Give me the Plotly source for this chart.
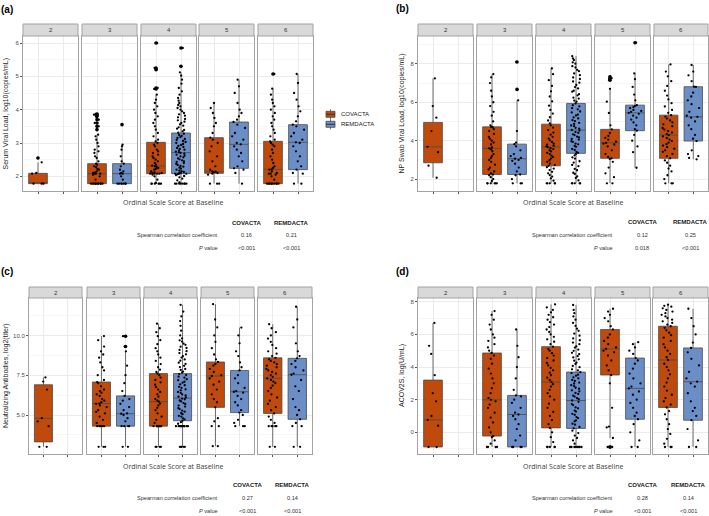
import plotly.graph_objects as go

# ---------------------------------------------------------------- data
SCORES = ["2", "3", "4", "5", "6"]
# nine groups per panel: facet index, x slot, study
GROUP_FACET = [0, 1, 1, 2, 2, 3, 3, 4, 4]
GROUP_SLOT = [1, 1, 2, 1, 2, 1, 2, 1, 2]
GROUP_STUDY = ["COVACTA", "COVACTA", "REMDACTA", "COVACTA", "REMDACTA",
               "COVACTA", "REMDACTA", "COVACTA", "REMDACTA"]

# (a) serum viral load
A_LO = [1.78, 1.78, 1.78, 1.78, 1.78, 1.78, 1.78, 1.78, 1.78]
A_Q1 = [1.78, 1.78, 1.78, 2.08, 2.08, 2.09, 2.24, 1.78, 2.20]
A_MED = [1.78, 2.08, 2.08, 2.31, 2.71, 2.14, 2.96, 2.21, 3.02]
A_Q3 = [2.09, 2.38, 2.38, 3.02, 3.30, 3.16, 3.63, 3.05, 3.55]
A_HI = [2.42, 3.25, 2.95, 4.45, 5.12, 4.20, 4.90, 4.63, 5.07]
A_OUT = [[2.55], [3.4, 3.5, 3.6, 3.7, 3.8, 3.85, 3.87], [3.55],
         [4.62, 4.65, 5.2, 5.25, 6.0], [5.3, 5.85], [], [], [5.07], []]
A_PTS = [
    [1.78, 1.78, 1.78, 2.08, 2.1, 2.42, 2.55],
    [1.78, 1.78, 1.78, 1.78, 1.78, 1.78, 1.78, 1.78, 1.78, 1.78, 1.78, 1.9, 2.0, 2.05, 2.08,
     2.08, 2.08, 2.1, 2.12, 2.15, 2.2, 2.22, 2.28, 2.3, 2.35, 2.38, 2.45, 2.55, 2.6, 2.7, 2.75,
     2.8, 2.9, 3.0, 3.1, 3.2, 3.25, 3.4, 3.5, 3.6, 3.7, 3.75, 3.8, 3.85, 3.87],
    [1.78, 1.78, 1.78, 1.78, 1.78, 1.78, 1.78, 1.9, 2.0, 2.08, 2.08, 2.1, 2.15, 2.2, 2.3, 2.38,
     2.45, 2.6, 2.8, 2.9, 2.95, 3.55],
    [1.78, 1.78, 1.78, 1.78, 1.78, 1.78, 1.8, 1.9, 2.0, 2.05, 2.08, 2.08, 2.08, 2.08, 2.1, 2.1,
     2.12, 2.15, 2.2, 2.22, 2.25, 2.28, 2.3, 2.32, 2.35, 2.4, 2.45, 2.5, 2.55, 2.6, 2.65, 2.7,
     2.75, 2.8, 2.9, 2.95, 3.0, 3.05, 3.1, 3.2, 3.3, 3.4, 3.5, 3.6, 3.7, 3.8, 3.9, 4.0, 4.1,
     4.2, 4.3, 4.45, 4.62, 4.65, 5.2, 5.25, 6.0],
    [1.78, 1.78, 1.78, 1.78, 1.78, 1.78, 1.78, 1.78, 1.82, 1.88, 1.93, 1.97, 2.01, 2.04, 2.06,
     2.08, 2.08, 2.08, 2.09, 2.11, 2.13, 2.15, 2.17, 2.2, 2.23, 2.26, 2.29, 2.31, 2.34, 2.37,
     2.4, 2.43, 2.45, 2.48, 2.51, 2.54, 2.57, 2.6, 2.62, 2.65, 2.68, 2.7, 2.72, 2.74, 2.77,
     2.8, 2.82, 2.85, 2.88, 2.91, 2.94, 2.97, 3.0, 3.03, 3.06, 3.09, 3.12, 3.15, 3.18, 3.21,
     3.24, 3.28, 3.31, 3.35, 3.39, 3.43, 3.47, 3.52, 3.56, 3.6, 3.64, 3.68, 3.72, 3.77, 3.82,
     3.86, 3.9, 3.95, 4.0, 4.05, 4.1, 4.14, 4.2, 4.27, 4.35, 4.45, 4.55, 4.65, 4.78, 4.9,
     5.02, 5.12, 5.3, 5.85],
    [1.78, 1.78, 1.78, 2.05, 2.08, 2.1, 2.12, 2.14, 2.15, 2.2, 2.3, 2.45, 2.6, 2.75, 2.9, 3.0,
     3.1, 3.16, 3.3, 3.5, 3.6, 3.75, 3.9, 4.05, 4.2],
    [1.78, 2.1, 2.2, 2.24, 2.3, 2.45, 2.6, 2.7, 2.8, 2.9, 2.96, 3.0, 3.1, 3.2, 3.3, 3.45, 3.55,
     3.63, 3.7, 3.8, 3.9, 4.0, 4.2, 4.5, 4.7, 4.9],
    [1.78, 1.78, 1.78, 1.78, 1.78, 1.78, 1.78, 1.78, 1.78, 1.78, 1.9, 2.0, 2.05, 2.08, 2.08, 2.1,
     2.15, 2.2, 2.21, 2.25, 2.3, 2.4, 2.5, 2.6, 2.7, 2.8, 2.9, 2.95, 3.0, 3.05, 3.1, 3.2, 3.3,
     3.4, 3.5, 3.6, 3.7, 3.8, 3.9, 4.0, 4.1, 4.2, 4.3, 4.45, 4.63, 5.07],
    [1.78, 1.78, 2.08, 2.1, 2.2, 2.3, 2.45, 2.6, 2.75, 2.9, 3.0, 3.02, 3.1, 3.2, 3.3, 3.4, 3.5,
     3.55, 3.65, 3.8, 3.95, 4.1, 4.3, 4.5, 4.8, 5.07],
]

# (b) NP swab viral load
B_LO = [2.07, 1.78, 1.78, 1.78, 1.78, 1.78, 2.59, 1.78, 3.03]
B_Q1 = [2.85, 2.24, 2.24, 2.69, 3.34, 3.08, 4.52, 3.08, 3.98]
B_MED = [3.68, 3.60, 3.06, 3.68, 4.55, 3.89, 5.45, 4.29, 5.24]
B_Q3 = [4.95, 4.72, 3.82, 4.86, 5.94, 4.59, 5.85, 5.33, 6.81]
B_HI = [7.24, 7.47, 6.10, 7.76, 8.40, 6.70, 7.50, 7.97, 7.94]
B_OUT = [[], [], [6.67, 8.1], [], [], [7.15, 7.25, 7.32], [9.1], [], []]
B_PTS = [
    [2.07, 2.7, 3.4, 3.68, 4.5, 5.2, 5.8, 7.24],
    [1.78, 1.78, 1.78, 1.78, 1.78, 1.78, 1.9, 2.0, 2.1, 2.2, 2.24, 2.3, 2.4, 2.5, 2.6, 2.75, 2.9,
     3.0, 3.1, 3.2, 3.3, 3.45, 3.55, 3.6, 3.65, 3.8, 3.9, 4.0, 4.1, 4.2, 4.35, 4.5, 4.6, 4.7,
     4.72, 4.8, 5.0, 5.3, 5.5, 5.8, 6.0, 6.3, 6.6, 7.0, 7.3, 7.47],
    [1.78, 1.78, 1.78, 2.0, 2.2, 2.24, 2.4, 2.6, 2.8, 2.95, 3.0, 3.06, 3.1, 3.2, 3.3, 3.5, 3.7,
     3.82, 3.9, 4.5, 6.1, 6.67, 8.1],
    [1.78, 1.78, 1.78, 1.78, 1.78, 1.92, 2.04, 2.13, 2.21, 2.3, 2.38, 2.47, 2.55, 2.62, 2.69,
     2.74, 2.81, 2.9, 2.98, 3.07, 3.15, 3.22, 3.3, 3.37, 3.44, 3.5, 3.56, 3.61, 3.66, 3.7,
     3.74, 3.79, 3.85, 3.93, 4.02, 4.11, 4.2, 4.31, 4.42, 4.55, 4.68, 4.8, 4.9, 5.05, 5.22,
     5.41, 5.6, 5.82, 6.05, 6.3, 6.57, 6.85, 7.15, 7.46, 7.76],
    [1.78, 1.78, 1.78, 1.78, 1.78, 1.93, 2.06, 2.14, 2.27, 2.33, 2.46, 2.53, 2.67, 2.74, 2.86,
     2.93, 3.07, 3.13, 3.24, 3.3, 3.37, 3.41, 3.52, 3.57, 3.68, 3.73, 3.81, 3.85, 3.94, 3.97,
     4.06, 4.09, 4.17, 4.21, 4.29, 4.33, 4.41, 4.45, 4.53, 4.56, 4.63, 4.67, 4.76, 4.79, 4.88,
     4.93, 5.02, 5.07, 5.16, 5.21, 5.31, 5.36, 5.47, 5.52, 5.63, 5.69, 5.79, 5.85, 5.94, 6.03,
     6.09, 6.19, 6.24, 6.36, 6.42, 6.55, 6.6, 6.72, 6.79, 6.9, 7.02, 7.08, 7.21, 7.29, 7.41,
     7.5, 7.62, 7.69, 7.81, 7.88, 8.01, 8.08, 8.2, 8.28, 8.4],
    [1.78, 1.78, 2.1, 2.3, 2.6, 2.9, 3.05, 3.08, 3.15, 3.3, 3.5, 3.7, 3.8, 3.85, 3.89, 3.95,
     4.05, 4.15, 4.25, 4.4, 4.59, 4.8, 5.44, 6.03, 6.7, 7.15, 7.25, 7.32],
    [2.59, 3.4, 3.7, 4.0, 4.3, 4.52, 4.6, 4.8, 4.95, 5.1, 5.2, 5.3, 5.4, 5.45, 5.5, 5.55, 5.6,
     5.7, 5.75, 5.8, 5.85, 6.1, 6.4, 6.8, 7.2, 7.5, 9.1],
    [1.78, 1.78, 1.78, 2.0, 2.2, 2.4, 2.55, 2.7, 2.85, 2.97, 3.08, 3.2, 3.31, 3.42, 3.5, 3.58,
     3.66, 3.74, 3.82, 3.9, 3.98, 4.06, 4.14, 4.22, 4.29, 4.35, 4.42, 4.5, 4.58, 4.66, 4.75,
     4.85, 4.95, 5.05, 5.15, 5.25, 5.33, 5.45, 5.6, 5.78, 5.95, 6.15, 6.35, 6.6, 6.85, 7.1,
     7.35, 7.6, 7.97],
    [3.03, 3.1, 3.2, 3.3, 3.5, 3.98, 4.1, 4.3, 4.6, 4.8, 5.0, 5.2, 5.24, 5.3, 5.5, 5.7, 5.9,
     6.1, 6.3, 6.5, 6.8, 6.81, 7.1, 7.4, 7.6, 7.94],
]

# (c) neutralizing antibodies
C_LO = [3.0, 3.0, 3.0, 3.0, 3.0, 3.04, 4.3, 3.0, 3.0]
C_Q1 = [3.31, 4.30, 4.30, 4.30, 4.64, 5.48, 5.15, 5.10, 4.73]
C_MED = [4.79, 5.72, 5.08, 5.84, 6.06, 7.45, 6.46, 7.30, 7.53]
C_Q3 = [6.90, 7.07, 6.20, 7.60, 7.60, 8.33, 7.80, 8.59, 8.56]
C_HI = [7.36, 9.96, 9.0, 10.74, 11.92, 11.96, 10.49, 10.70, 11.80]
C_OUT = [[], [], [9.3, 9.95], [], [], [], [], [], []]
C_PTS = [
    [3.0, 3.0, 4.3, 4.6, 4.8, 6.6, 7.1, 7.36],
    [3.0, 3.0, 3.0, 4.3, 4.3, 4.3, 4.3, 4.3, 4.3, 4.5, 4.7, 4.9, 5.1, 5.2, 5.3, 5.5, 5.6, 5.7,
     5.72, 5.8, 5.9, 6.0, 6.2, 6.3, 6.4, 6.5, 6.6, 6.8, 7.0, 7.07, 7.2, 7.5, 7.8, 8.0, 8.3,
     8.6, 8.8, 9.0, 9.3, 9.7, 9.96],
    [3.0, 3.0, 4.3, 4.3, 4.3, 4.3, 4.6, 4.8, 5.0, 5.08, 5.1, 5.3, 5.5, 5.7, 5.9, 6.0, 6.2, 6.5,
     7.0, 7.5, 8.1, 9.0, 9.3, 9.95],
    [3.0, 3.0, 3.0, 3.0, 4.3, 4.3, 4.3, 4.3, 4.3, 4.3, 4.3, 4.3, 4.3, 4.5, 4.7, 4.9, 5.1, 5.3,
     5.45, 5.6, 5.72, 5.84, 5.9, 6.0, 6.15, 6.3, 6.45, 6.6, 6.75, 6.9, 7.05, 7.2, 7.35, 7.5,
     7.6, 7.7, 7.85, 8.0, 8.2, 8.4, 8.6, 8.8, 9.0, 9.2, 9.45, 9.7, 9.95, 10.2, 10.45, 10.74],
    [3.0, 3.0, 3.0, 3.0, 3.0, 4.3, 4.3, 4.3, 4.3, 4.3, 4.3, 4.3, 4.3, 4.3, 4.3, 4.3, 4.3, 4.45,
     4.55, 4.64, 4.73, 4.79, 4.9, 4.95, 5.05, 5.11, 5.21, 5.27, 5.37, 5.43, 5.53, 5.59, 5.69,
     5.75, 5.85, 5.91, 5.99, 6.03, 6.11, 6.15, 6.23, 6.29, 6.39, 6.45, 6.55, 6.61, 6.71, 6.77,
     6.87, 6.93, 7.03, 7.09, 7.19, 7.25, 7.35, 7.41, 7.51, 7.57, 7.67, 7.73, 7.83, 7.89, 8.01,
     8.09, 8.21, 8.29, 8.41, 8.49, 8.61, 8.69, 8.81, 8.89, 9.01, 9.09, 9.21, 9.29, 9.41, 9.49,
     9.61, 9.69, 9.81, 10.0, 10.3, 10.6, 10.9, 11.2, 11.5, 11.92],
    [3.04, 3.04, 4.3, 4.3, 4.6, 4.8, 5.48, 5.8, 6.0, 6.3, 6.6, 6.9, 7.1, 7.3, 7.45, 7.5, 7.7,
     7.9, 8.1, 8.2, 8.33, 8.5, 8.8, 9.2, 9.6, 10.0, 10.5, 11.0, 11.96],
    [4.3, 4.3, 4.3, 4.5, 4.7, 5.0, 5.15, 5.3, 5.6, 5.8, 6.0, 6.2, 6.4, 6.46, 6.5, 6.7, 7.0, 7.3,
     7.5, 7.8, 8.0, 8.3, 8.7, 9.0, 9.5, 10.0, 10.49],
    [3.0, 3.0, 4.3, 4.3, 4.3, 4.3, 4.3, 4.5, 4.7, 4.9, 5.1, 5.3, 5.5, 5.7, 5.9, 6.1, 6.3, 6.5,
     6.7, 6.85, 7.0, 7.1, 7.2, 7.3, 7.4, 7.5, 7.6, 7.7, 7.8, 7.9, 8.0, 8.1, 8.2, 8.3, 8.4, 8.5,
     8.59, 8.7, 8.85, 9.0, 9.2, 9.4, 9.6, 9.8, 10.0, 10.2, 10.45, 10.7],
    [3.0, 3.0, 4.3, 4.3, 4.5, 4.73, 5.0, 5.3, 5.5, 6.0, 6.5, 6.8, 7.2, 7.53, 7.6, 7.8, 8.0, 8.2,
     8.4, 8.56, 8.7, 9.0, 9.5, 10.5, 11.0, 11.8],
]

# (d) ACOV2S
D_LO = [-0.9, -0.9, -0.9, -0.9, -0.9, -0.35, -0.9, -0.9, -0.9]
D_Q1 = [-0.90, -0.23, -0.90, 0.27, 0.24, 3.51, 0.80, 1.52, 0.74]
D_MED = [0.76, 1.99, 1.09, 3.08, 1.95, 5.11, 2.69, 4.43, 3.10]
D_Q3 = [3.20, 4.86, 2.26, 5.25, 3.69, 6.30, 4.55, 6.50, 5.17]
D_HI = [6.70, 7.43, 6.30, 7.84, 7.80, 7.57, 5.52, 7.82, 7.57]
D_OUT = [[], [], [], [], [], [-0.9, -0.9], [], [], []]
D_PTS = [
    [-0.9, -0.9, 0.4, 0.76, 1.0, 1.9, 2.4, 3.5, 4.8, 5.3, 6.7],
    [-0.9, -0.9, -0.9, -0.9, -0.7, -0.5, -0.3, -0.23, 0.0, 0.3, 0.6, 0.9, 1.2, 1.5, 1.7, 1.9,
     1.99, 2.1, 2.4, 2.7, 3.0, 3.3, 3.6, 3.9, 4.2, 4.5, 4.7, 4.86, 5.0, 5.2, 5.4, 5.6, 5.8,
     6.0, 6.3, 6.6, 6.9, 7.2, 7.43],
    [-0.9, -0.9, -0.9, -0.9, -0.5, -0.2, 0.2, 0.5, 0.8, 1.0, 1.09, 1.2, 1.5, 1.8, 2.0, 2.2,
     2.26, 2.6, 3.3, 4.0, 4.6, 5.3, 6.3],
    [-0.9, -0.9, -0.9, -0.9, -0.9, -0.6, -0.3, 0.0, 0.27, 0.5, 0.75, 1.0, 1.25, 1.5, 1.75, 2.0,
     2.2, 2.4, 2.6, 2.8, 2.95, 3.08, 3.2, 3.35, 3.5, 3.65, 3.8, 3.95, 4.1, 4.25, 4.4, 4.55,
     4.7, 4.85, 5.0, 5.1, 5.25, 5.4, 5.55, 5.7, 5.85, 6.0, 6.15, 6.3, 6.45, 6.6, 6.75, 6.9,
     7.05, 7.2, 7.35, 7.5, 7.65, 7.84],
    [-0.9, -0.9, -0.9, -0.9, -0.9, -0.9, -0.9, -0.9, -0.7, -0.5, -0.35, -0.2, -0.05, 0.1, 0.24,
     0.33, 0.47, 0.53, 0.67, 0.73, 0.87, 0.93, 1.07, 1.13, 1.27, 1.33, 1.47, 1.53, 1.67,
     1.73, 1.87, 1.95, 2.03, 2.09, 2.19, 2.25, 2.35, 2.41, 2.51, 2.57, 2.67, 2.73, 2.83, 2.89,
     2.99, 3.05, 3.15, 3.21, 3.31, 3.37, 3.47, 3.53, 3.63, 3.69, 3.8, 3.86, 3.99, 4.07, 4.19,
     4.27, 4.39, 4.47, 4.59, 4.67, 4.79, 4.87, 4.99, 5.07, 5.19, 5.27, 5.4, 5.5, 5.64, 5.75,
     5.92, 6.05, 6.22, 6.35, 6.52, 6.7, 6.9, 7.1, 7.3, 7.5, 7.8],
    [-0.9, -0.9, -0.35, 0.3, 0.35, 1.5, 3.0, 3.51, 3.8, 4.1, 4.4, 4.7, 4.9, 5.0, 5.11, 5.2,
     5.4, 5.6, 5.8, 6.0, 6.3, 6.5, 6.8, 7.0, 7.2, 7.4, 7.57],
    [-0.9, -0.9, -0.5, 0.0, 0.5, 0.8, 1.0, 1.2, 1.5, 1.8, 2.0, 2.3, 2.5, 2.69, 2.8, 3.0, 3.3,
     3.6, 3.9, 4.2, 4.4, 4.55, 4.8, 5.0, 5.2, 5.4, 5.52],
    [-0.9, -0.9, -0.9, -0.7, -0.4, -0.1, 0.2, 0.5, 0.8, 1.1, 1.3, 1.52, 1.7, 1.9, 2.1, 2.3,
     2.55, 2.8, 3.05, 3.3, 3.55, 3.8, 4.0, 4.2, 4.43, 4.6, 4.8, 5.0, 5.2, 5.4, 5.6, 5.8, 5.95,
     6.1, 6.25, 6.4, 6.5, 6.6, 6.7, 6.8, 6.9, 7.0, 7.1, 7.2, 7.3, 7.4, 7.5, 7.6, 7.7, 7.75,
     7.82],
    [-0.9, -0.9, -0.5, 0.2, 0.74, 1.0, 1.3, 1.5, 1.9, 2.4, 2.8, 3.0, 3.1, 3.3, 3.7, 4.1, 4.5,
     4.9, 5.17, 5.5, 6.0, 6.5, 7.0, 7.57],
]

Y_TITLES = ["Serum Viral Load, log10(copies/mL)", "NP Swab Viral Load, log10(copies/mL)",
            "Neutralizing Antibodies, log2(titer)", "ACOV2S, log(U/mL)"]
Y_RANGES = [[1.56, 6.21], [1.38, 9.45], [2.55, 12.35], [-1.33, 8.23]]
Y_TICKS = [[2, 3, 4, 5, 6], [2, 4, 6, 8], [5, 7.5, 10], [0, 2, 4, 6, 8]]
Y_TICKTEXT = [["2", "3", "4", "5", "6"], ["2", "4", "6", "8"], ["5.0", "7.5", "10.0"],
              ["0", "2", "4", "6", "8"]]
Y_MINOR = [[2.5, 3.5, 4.5, 5.5], [3, 5, 7, 9], [3.75, 6.25, 8.75, 11.25], [-1, 1, 3, 5, 7]]
SPEARMAN_COV = ["0.16", "0.12", "0.27", "0.28"]
SPEARMAN_REM = ["0.21", "0.25", "0.14", "0.14"]
PVAL_COV = ["<0.001", "0.018", "<0.001", "<0.001"]
PVAL_REM = ["<0.001", "<0.001", "<0.001", "<0.001"]
PANEL_TAGS = ["(a)", "(b)", "(c)", "(d)"]

PANEL_DATA = [
    (A_LO, A_Q1, A_MED, A_Q3, A_HI, A_OUT, A_PTS),
    (B_LO, B_Q1, B_MED, B_Q3, B_HI, B_OUT, B_PTS),
    (C_LO, C_Q1, C_MED, C_Q3, C_HI, C_OUT, C_PTS),
    (D_LO, D_Q1, D_MED, D_Q3, D_HI, D_OUT, D_PTS),
]

# ---------------------------------------------------------------- layout (pixels)
W, H = 709, 516
COLORS = {'COVACTA': '#BF4A0B', 'REMDACTA': '#6A8EC5'}
BORDER = '#A3A3A3'
GRID = '#EBEBEB'
FONT = "Liberation Sans, Arial, sans-serif"

PANEL_FACETS = [
    [(23, 78), (82, 137), (141, 196), (199, 254), (258, 313)],
    [(418, 473), (477, 532), (536, 591), (595, 650), (654, 708)],
    [(29, 82), (87, 140), (144, 197), (201, 254), (258, 312)],
    [(418, 473), (477, 532), (536, 591), (595, 650), (653, 708)],
]
PANEL_TOP = [36, 36, 298, 298]
PANEL_BOTTOM = [191, 191, 454, 454]
STRIP_TOP = [24, 24, 287, 287]
YTITLE_X = [6, 402, 6, 402]
TAG_POS = [(7, 9), (402, 8), (7, 271), (402, 271)]
XTITLE_POS = [(173, 202), (573, 202), (173, 466), (573, 466)]
TABLE_LABEL_X = [220, 615, 220, 615]
TABLE_COLS = [(246, 291), (642, 690), (247, 292), (642, 688)]
TABLE_ROWS = [(223, 235, 248), (222, 235, 248), (485, 498, 511), (485, 498, 511)]


def px(x):
    return x / W


def py(y):
    return 1 - y / H


fig = go.Figure()
shapes, annotations = [], []
layout_axes = {}


def text(x, y, s, size=6, color='#1A1A1A', xanchor='center', angle=0, family=FONT):
    annotations.append(dict(x=px(x), y=py(y), xref='paper', yref='paper', text=s,
                            showarrow=False, xanchor=xanchor, yanchor='middle',
                            textangle=angle, font=dict(size=size, color=color, family=family)))


k = 0
for p in range(4):
    lo, q1, med, q3, hi, out, pts = PANEL_DATA[p]
    refs = []
    for f, (x0, x1) in enumerate(PANEL_FACETS[p]):
        k += 1
        sfx = '' if k == 1 else str(k)
        refs.append(('x' + sfx, 'y' + sfx))
        first = f == 0
        layout_axes['xaxis' + sfx] = dict(
            domain=[px(x0), px(x1)], range=[0.4, 2.6], anchor='y' + sfx,
            tickvals=[1, 2], showticklabels=False, ticks='outside', ticklen=2,
            tickcolor='#555555', tickwidth=0.6, showgrid=True, gridcolor=GRID, gridwidth=0.8,
            showline=True, mirror=True, linecolor=BORDER, linewidth=1, zeroline=False,
            fixedrange=True)
        layout_axes['yaxis' + sfx] = dict(
            domain=[py(PANEL_BOTTOM[p]), py(PANEL_TOP[p])], range=Y_RANGES[p],
            anchor='x' + sfx, tickvals=Y_TICKS[p], ticktext=Y_TICKTEXT[p],
            showticklabels=first, ticks='outside' if first else '', ticklen=2,
            tickcolor='#555555', tickwidth=0.6,
            tickfont=dict(size=6, color='#4D4D4D', family=FONT),
            showgrid=True, gridcolor=GRID, gridwidth=0.8,
            minor=dict(tickvals=Y_MINOR[p], showgrid=True, gridcolor='#F6F6F6', gridwidth=0.6),
            showline=True, mirror=True, linecolor=BORDER, linewidth=1, zeroline=False,
            fixedrange=True)
        # facet strip
        shapes.append(dict(type='rect', xref='paper', yref='paper',
                           x0=px(x0), x1=px(x1), y0=py(PANEL_TOP[p]), y1=py(STRIP_TOP[p]),
                           fillcolor='#D9D9D9', line=dict(color=BORDER, width=1)))
        text((x0 + x1) / 2, (PANEL_TOP[p] + STRIP_TOP[p]) / 2, SCORES[f], size=6,
             color='#333333')

    for g in range(9):
        xr, yr = refs[GROUP_FACET[g]]
        pos = GROUP_SLOT[g]
        col = COLORS[GROUP_STUDY[g]]
        fig.add_trace(go.Box(
            x=[pos], q1=[q1[g]], median=[med[g]], q3=[q3[g]],
            lowerfence=[lo[g]], upperfence=[hi[g]], width=0.75, whiskerwidth=0,
            fillcolor=col, line=dict(color='#4A4A4A', width=0.8), boxpoints=False,
            xaxis=xr, yaxis=yr, showlegend=False, hoverinfo='skip', name=GROUP_STUDY[g]))
        fig.add_trace(go.Box(
            y=pts[g], x0=pos, width=0.75, boxpoints='all', jitter=0.75, pointpos=0,
            fillcolor='rgba(0,0,0,0)', line=dict(color='rgba(0,0,0,0)', width=0),
            marker=dict(color='black', size=2.3), xaxis=xr, yaxis=yr, showlegend=False,
            hoverinfo='y', name=GROUP_STUDY[g]))
        if out[g]:
            fig.add_trace(go.Scatter(
                x=[pos] * len(out[g]), y=out[g], mode='markers',
                marker=dict(color='black', size=3.6), xaxis=xr, yaxis=yr,
                showlegend=False, hoverinfo='y'))

    # titles
    text(YTITLE_X[p], (PANEL_TOP[p] + PANEL_BOTTOM[p]) / 2, Y_TITLES[p], size=7,
         color='#262626', angle=-90)
    text(*XTITLE_POS[p], "Ordinal Scale Score at Baseline", size=7, color='#404040',
         family="Open Sans, Liberation Sans, sans-serif")
    text(*TAG_POS[p], "<b>" + PANEL_TAGS[p] + "</b>", size=10, color='#000000')

    # correlation table
    c1, c2 = TABLE_COLS[p]
    r0, r1, r2 = TABLE_ROWS[p]
    text(c1, r0, "<b>COVACTA</b>", size=6)
    text(c2, r0, "<b>REMDACTA</b>", size=6)
    text(TABLE_LABEL_X[p], r1, "Spearman correlation coefficient", size=5.6,
         color='#333333', xanchor='right')
    text(TABLE_LABEL_X[p], r2, "<i>P</i> value", size=5.6, color='#333333', xanchor='right')
    text(c1, r1, SPEARMAN_COV[p], size=5.6, color='#333333')
    text(c2, r1, SPEARMAN_REM[p], size=5.6, color='#333333')
    text(c1, r2, PVAL_COV[p], size=5.6, color='#333333')
    text(c2, r2, PVAL_REM[p], size=5.6, color='#333333')

# legend (drawn as ggplot-style keys)
for i, study in enumerate(["COVACTA", "REMDACTA"]):
    cy = 114.3 + 10 * i
    shapes.append(dict(type='line', xref='paper', yref='paper', x0=px(330.5), x1=px(330.5),
                       y0=py(cy - 5), y1=py(cy + 5), line=dict(color='#4A4A4A', width=0.8)))
    shapes.append(dict(type='rect', xref='paper', yref='paper', x0=px(326), x1=px(335),
                       y0=py(cy + 3), y1=py(cy - 3), fillcolor=COLORS[study],
                       line=dict(color='#4A4A4A', width=0.8)))
    shapes.append(dict(type='line', xref='paper', yref='paper', x0=px(326), x1=px(335),
                       y0=py(cy), y1=py(cy), line=dict(color='#333333', width=1)))
    text(339, cy, study, size=6, color='#222222', xanchor='left')

fig.update_layout(
    width=W, height=H, margin=dict(l=0, r=0, t=0, b=0),
    paper_bgcolor='white', plot_bgcolor='white', showlegend=False,
    boxmode='overlay', shapes=shapes, annotations=annotations,
    font=dict(family=FONT), **layout_axes)

# the page body has a default 8px margin; remove it so the figure fills the window
fig.write_html("out.html", config={'displayModeBar': False},
               post_script="document.body.style.margin='0';document.body.style.overflow='hidden';")
